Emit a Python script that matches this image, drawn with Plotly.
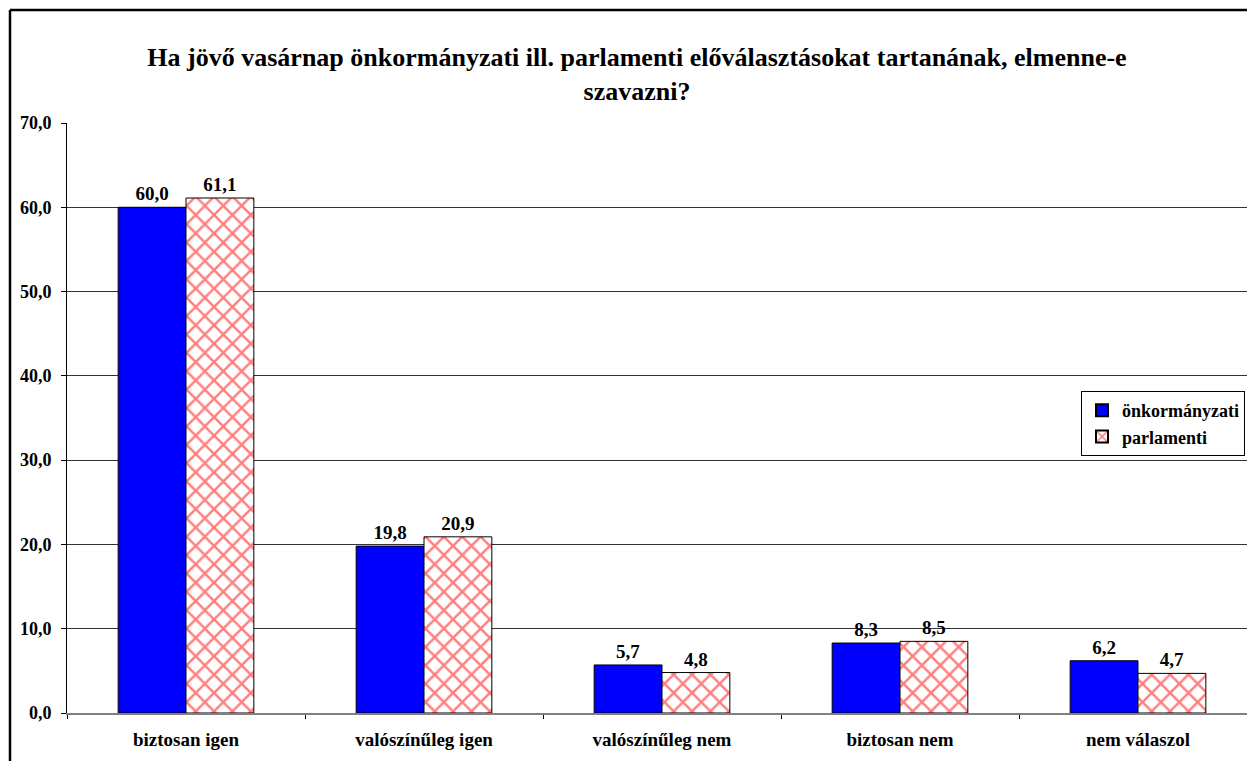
import plotly.graph_objects as go

# adatok
kategoriak = ["biztosan igen", "valószínűleg igen", "valószínűleg nem", "biztosan nem", "nem válaszol"]
onkormanyzati = [60.0, 19.8, 5.7, 8.3, 6.2]
parlamenti = [61.1, 20.9, 4.8, 8.5, 4.7]

cim = "Ha jövő vasárnap önkormányzati ill. parlamenti előválasztásokat tartanának, elmenne-e<br>szavazni?"

# az oldal 8 px margóval teszi ki az ábrát, ezért minden pozíció ehhez igazodik
OFF = 8
W, H = 1255 - OFF, 761 - OFF
ML, MR, MT, MB = 67 - OFF, 0, 123 - OFF, 48
FONT = "Liberation Serif, Times New Roman, serif"

pw = W - ML - MR
ph = H - MT - MB

fig = go.Figure()

fig.add_trace(go.Bar(
    x=kategoriak, y=onkormanyzati, name="önkormányzati",
    marker=dict(color="#0000ff", line=dict(color="#000000", width=1)),
    texttemplate="%{y:.1f}", textposition="outside",
    textfont=dict(family=FONT, size=19, color="#000000", weight="bold"),
    cliponaxis=False,
))
fig.add_trace(go.Bar(
    x=kategoriak, y=parlamenti, name="parlamenti",
    marker=dict(
        color="#ffffff",
        line=dict(color="#000000", width=1),
        pattern=dict(shape="x", fgcolor="#ff0000", bgcolor="#ffffff", size=13, solidity=0.35),
    ),
    texttemplate="%{y:.1f}", textposition="outside",
    textfont=dict(family=FONT, size=19, color="#000000", weight="bold"),
    cliponaxis=False,
))

# keret a diagram körül (bal és felső él)
x0 = (10 - OFF - ML) / pw
y0 = (H - MB - (10 - OFF)) / ph
fig.add_shape(type="line", xref="paper", yref="paper", x0=x0, x1=x0, y0=-0.2, y1=y0,
              line=dict(color="#000000", width=2.5))
fig.add_shape(type="line", xref="paper", yref="paper", x0=x0, x1=1.05, y0=y0, y1=y0,
              line=dict(color="#000000", width=2.5))

fig.update_layout(
    width=W, height=H,
    margin=dict(l=ML, r=MR, t=MT, b=MB),
    paper_bgcolor="#ffffff", plot_bgcolor="#ffffff",
    separators=", ",
    font=dict(family=FONT, size=19, color="#000000"),
    title=dict(
        text="<b>" + cim + "</b>",
        font=dict(family=FONT, size=26, color="#000000"),
        x=(637 - OFF) / W, xanchor="center", xref="container",
        y=1 - (66 - OFF) / H, yanchor="top", yref="container",
    ),
    barmode="group",
    bargap=0.43, bargroupgap=0,
    showlegend=True,
    legend=dict(
        x=(1081 - OFF - ML) / pw, y=(H - MB - (391 - OFF)) / ph, xanchor="left", yanchor="top",
        bordercolor="#000000", borderwidth=1, bgcolor="#ffffff",
        font=dict(family=FONT, size=18, weight="bold"),
        itemsizing="constant", itemwidth=30,
    ),
    xaxis=dict(
        range=[-0.5, 4.5 - 2 / 238],
        showgrid=False,
        showline=True, linecolor="#808080", linewidth=2,
        ticks="outside", tickson="boundaries", ticklen=4, tickcolor="#000000",
        tickfont=dict(family=FONT, size=19, weight="bold"),
        ticklabelstandoff=8,
        fixedrange=True,
    ),
    yaxis=dict(
        range=[0, 70], dtick=10, tickformat=".1f",
        showgrid=True, gridcolor="#333333", gridwidth=1,
        showline=True, linecolor="#000000", linewidth=1,
        ticks="outside", ticklen=5, tickcolor="#000000",
        tickfont=dict(family=FONT, size=18, weight="bold"),
        ticklabelstandoff=6,
        zeroline=False,
    ),
)

fig.write_html("out.html")
